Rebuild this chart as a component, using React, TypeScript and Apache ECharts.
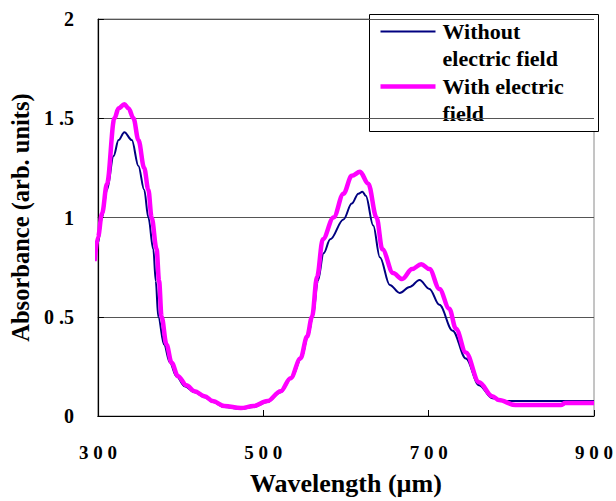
import React, { useEffect, useRef } from "react";
import * as echarts from "echarts";

// Wavelength (nm on the axis) and absorbance for each series
const withoutX = [296, 300, 305, 311, 319, 325, 332, 341, 349, 356, 361, 367, 370, 373, 380, 387, 395, 405, 417, 429, 439, 453, 473, 488, 505, 521, 534, 546, 554, 560, 566, 573, 581, 597, 607, 615, 620, 624, 633, 641, 653, 665, 677, 689, 701, 713, 729, 745, 761, 777, 790, 900];
const withoutY = [0.78, 0.87, 1.0, 1.14, 1.31, 1.39, 1.43, 1.39, 1.26, 1.14, 1.0, 0.84, 0.68, 0.5, 0.36, 0.27, 0.2, 0.15, 0.12, 0.095, 0.07, 0.045, 0.035, 0.045, 0.07, 0.12, 0.19, 0.29, 0.4, 0.5, 0.68, 0.82, 0.89, 0.99, 1.07, 1.12, 1.13, 1.11, 0.96, 0.8, 0.66, 0.62, 0.65, 0.685, 0.64, 0.56, 0.43, 0.29, 0.155, 0.09, 0.075, 0.075];

const withX = [296, 300, 305, 311, 320, 325, 332, 337, 343, 349, 356, 361, 365, 371, 374, 377, 383, 389, 397, 407, 417, 429, 439, 453, 473, 488, 505, 521, 533, 545, 553, 559, 565, 572, 585, 597, 607, 617, 627, 637, 644, 657, 668, 680, 691, 701, 713, 725, 733, 745, 761, 777, 785, 805, 860, 865, 900];
const withY = [0.78, 0.9, 1.02, 1.17, 1.5, 1.55, 1.57, 1.55, 1.5, 1.39, 1.25, 1.14, 1.0, 0.84, 0.68, 0.5, 0.36, 0.27, 0.2, 0.155, 0.125, 0.1, 0.075, 0.05, 0.04, 0.05, 0.075, 0.125, 0.19, 0.29, 0.4, 0.5, 0.7, 0.89, 1.0, 1.12, 1.21, 1.23, 1.17, 1.0, 0.84, 0.72, 0.69, 0.74, 0.765, 0.74, 0.64, 0.54, 0.44, 0.32, 0.17, 0.1, 0.08, 0.055, 0.055, 0.065, 0.065];

const xTicks = [300, 500, 700, 900];
const yTickLabels: Record<string, string> = { "0": "0", "0.5": "0 .5", "1": "1", "1.5": "1 .5", "2": "2" };

const seriesNames = ["Without electric field", "With electric field"];
const legendLines = [["Without", "electric field"], ["With electric", "field"]];

const FONT = "Liberation Serif";

export default function App() {
  const ref = useRef<HTMLDivElement>(null);
  useEffect(() => {
    if (!ref.current) return;
    const chart = echarts.init(ref.current, null, { renderer: "svg" });
    const pair = (xs: number[], ys: number[]) => xs.map((x, i) => [x, ys[i]]);
    chart.setOption({
      animation: false,
      backgroundColor: "#ffffff",
      textStyle: { fontFamily: FONT },
      grid: {
        left: 96,
        right: 20,
        top: 19,
        bottom: 83,
        show: true,
        borderColor: "#8a8a8a",
        borderWidth: 1,
        backgroundColor: "transparent",
      },
      xAxis: {
        type: "value",
        min: 300,
        max: 900,
        interval: 200,
        name: "Wavelength (µm)",
        nameLocation: "middle",
        nameGap: 54,
        nameTextStyle: { fontFamily: FONT, fontWeight: "bold", fontSize: 26, color: "#000" },
        axisLine: { show: true, lineStyle: { color: "#000", width: 1.2 } },
        axisTick: { show: true, inside: true, length: 6, lineStyle: { color: "#000" } },
        splitLine: { show: false },
        axisLabel: {
          margin: 27,
          fontFamily: FONT,
          fontWeight: "bold",
          fontSize: 19,
          color: "#000",
          formatter: (v: number) => (xTicks.includes(v) ? String(v).split("").join(" ") : ""),
        },
      },
      yAxis: {
        type: "value",
        min: 0,
        max: 2,
        interval: 0.5,
        name: "Absorbance (arb. units)",
        nameLocation: "middle",
        nameGap: 62,
        nameTextStyle: { fontFamily: FONT, fontWeight: "bold", fontSize: 24.5, color: "#000" },
        axisLine: { show: true, lineStyle: { color: "#000", width: 1.2 } },
        axisTick: { show: true, inside: true, length: 6, lineStyle: { color: "#000" } },
        splitLine: { show: true, lineStyle: { color: "#555", width: 1 } },
        axisLabel: {
          margin: 24,
          fontFamily: FONT,
          fontWeight: "bold",
          fontSize: 20,
          color: "#000",
          formatter: (v: number) => yTickLabels[String(v)] ?? String(v),
        },
      },
      series: [
        {
          name: seriesNames[0],
          type: "line",
          data: pair(withoutX, withoutY),
          showSymbol: false,
          clip: false,
          smooth: 0.35,
          smoothMonotone: "x",
          lineStyle: { color: "#000080", width: 2 },
          itemStyle: { color: "#000080" },
          z: 2,
        },
        {
          name: seriesNames[1],
          type: "line",
          data: pair(withX, withY),
          showSymbol: false,
          clip: false,
          smooth: 0.35,
          smoothMonotone: "x",
          lineStyle: { color: "#ff00ff", width: 4.5 },
          itemStyle: { color: "#ff00ff" },
          z: 3,
        },
      ],
      graphic: [
        {
          type: "group",
          left: 369,
          top: 14,
          z: 10,
          children: [
            {
              type: "rect",
              shape: { x: 0, y: 0, width: 229, height: 117 },
              style: { fill: "#fff", stroke: "#000", lineWidth: 1 },
            },
            {
              type: "line",
              shape: { x1: 11, y1: 17, x2: 66, y2: 17 },
              style: { stroke: "#000080", lineWidth: 2 },
            },
            {
              type: "text",
              x: 73,
              y: 3,
              style: {
                text: legendLines[0].join("\n"),
                fontFamily: FONT,
                fontWeight: "bold",
                fontSize: 22,
                lineHeight: 27,
                fill: "#000",
                verticalAlign: "top",
              },
            },
            {
              type: "line",
              shape: { x1: 11, y1: 72, x2: 66, y2: 72 },
              style: { stroke: "#ff00ff", lineWidth: 4.5 },
            },
            {
              type: "text",
              x: 73,
              y: 58,
              style: {
                text: legendLines[1].join("\n"),
                fontFamily: FONT,
                fontWeight: "bold",
                fontSize: 22,
                lineHeight: 27,
                fill: "#000",
                verticalAlign: "top",
              },
            },
          ],
        },
      ],
    });
    return () => chart.dispose();
  }, []);
  return <div ref={ref} style={{ position: "fixed", left: 0, top: 0, width: 616, height: 501 }} />;
}
